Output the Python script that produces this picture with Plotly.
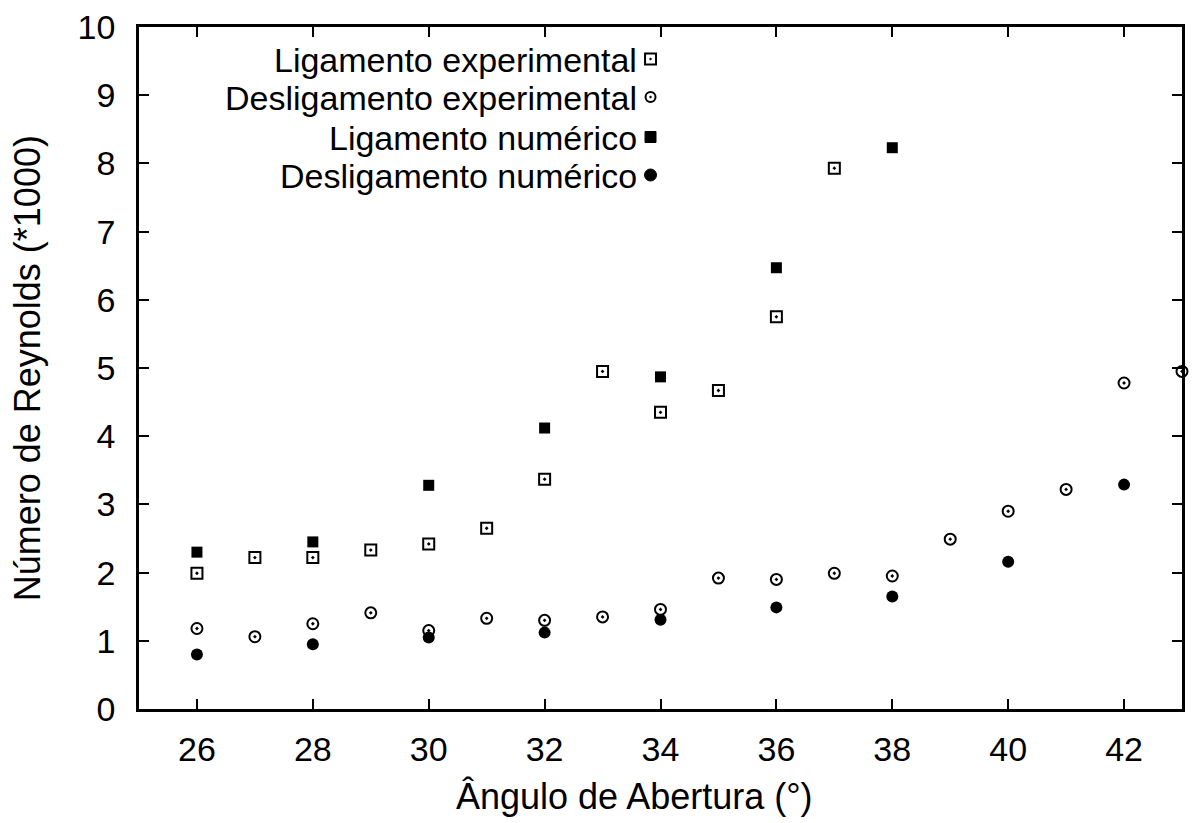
import plotly.graph_objects as go

# Data
lig_exp_x = [26, 27, 28, 29, 30, 31, 32, 33, 34, 35, 36, 37]
lig_exp_y = [1.99, 2.22, 2.22, 2.33, 2.42, 2.65, 3.37, 4.95, 4.35, 4.67, 5.75, 7.93]

lig_num_x = [26, 28, 30, 32, 34, 36, 38]
lig_num_y = [2.30, 2.45, 3.28, 4.12, 4.87, 6.47, 8.23]

des_exp_x = [26, 27, 28, 29, 30, 31, 32, 33, 34, 35, 36, 37, 38, 39, 40, 41, 42, 43]
des_exp_y = [1.18, 1.06, 1.25, 1.41, 1.15, 1.33, 1.30, 1.35, 1.46, 1.92, 1.90, 1.99, 1.95, 2.49, 2.90, 3.22, 4.78, 4.95]

des_num_x = [26, 28, 30, 32, 34, 36, 38, 40, 42]
des_num_y = [0.80, 0.95, 1.05, 1.12, 1.31, 1.49, 1.65, 2.16, 3.29]

legend_labels = ["Ligamento experimental", "Desligamento experimental",
                 "Ligamento numérico", "Desligamento numérico"]

x_title = "Ângulo de Abertura (°)"
y_title = "Número de Reynolds (*1000)"

x_ticks = [26, 28, 30, 32, 34, 36, 38, 40, 42]
y_ticks = [0, 1, 2, 3, 4, 5, 6, 7, 8, 9, 10]

FONT = "Liberation Sans, Arial, sans-serif"

fig = go.Figure()
fig.add_trace(go.Scatter(x=lig_exp_x, y=lig_exp_y, mode="markers", name=legend_labels[0],
                         marker=dict(symbol="square-open-dot", size=11, color="black", line=dict(width=2))))
fig.add_trace(go.Scatter(x=des_exp_x, y=des_exp_y, mode="markers", name=legend_labels[1],
                         marker=dict(symbol="circle-open-dot", size=11, color="black", line=dict(width=2))))
fig.add_trace(go.Scatter(x=lig_num_x, y=lig_num_y, mode="markers", name=legend_labels[2],
                         marker=dict(symbol="square", size=11, color="black")))
fig.add_trace(go.Scatter(x=des_num_x, y=des_num_y, mode="markers", name=legend_labels[3],
                         marker=dict(symbol="circle", size=12, color="black")))
for tr in fig.data:
    tr.cliponaxis = False

# Plot-area pixel geometry
L, R, T, B = 139, 1185, 27, 709
W, H = R - L, B - T
def px(xp): return (xp - L) / W
def py(yp): return (B - yp) / H

# Custom legend: text right-aligned, symbol to the right
leg_y = [59, 97, 137, 175]
sym_x = 652
for i, (lab, yy) in enumerate(zip(legend_labels, leg_y)):
    fig.add_annotation(x=px(640), y=py(yy + 1), xref="paper", yref="paper",
                       text=lab, showarrow=False, xanchor="right", yanchor="middle",
                       font=dict(family=FONT, size=34, color="black"))
    s = 5.5
    if i == 0:
        fig.add_shape(type="rect", xref="paper", yref="paper", x0=px(sym_x - s), x1=px(sym_x + s),
                      y0=py(yy + s), y1=py(yy - s), line=dict(color="black", width=2))
    elif i == 1:
        fig.add_shape(type="circle", xref="paper", yref="paper", x0=px(sym_x - 5), x1=px(sym_x + 5),
                      y0=py(yy + 5), y1=py(yy - 5), line=dict(color="black", width=2))
    elif i == 2:
        fig.add_shape(type="rect", xref="paper", yref="paper", x0=px(sym_x - s), x1=px(sym_x + s),
                      y0=py(yy + s), y1=py(yy - s), line=dict(color="black", width=1), fillcolor="black")
    else:
        fig.add_shape(type="circle", xref="paper", yref="paper", x0=px(sym_x - 6), x1=px(sym_x + 6),
                      y0=py(yy + 6), y1=py(yy - 6), line=dict(color="black", width=1), fillcolor="black")
    if i < 2:
        fig.add_shape(type="circle", xref="paper", yref="paper", x0=px(sym_x - 1), x1=px(sym_x + 1),
                      y0=py(yy + 1), y1=py(yy - 1), line=dict(color="black", width=0.5), fillcolor="black")

# Axis titles
fig.add_annotation(x=px(636), y=py(797), xref="paper", yref="paper", text=x_title,
                   showarrow=False, xanchor="center", yanchor="middle",
                   font=dict(family=FONT, size=36, color="black"))
fig.add_annotation(x=px(27), y=py(368), xref="paper", yref="paper", text=y_title,
                   showarrow=False, xanchor="center", yanchor="middle", textangle=-90,
                   font=dict(family=FONT, size=36, color="black"))

axis_common = dict(showline=True, linecolor="black", linewidth=2.5, mirror="allticks",
                   ticks="inside", ticklen=10, tickwidth=2, tickcolor="black",
                   showgrid=False, zeroline=False,
                   tickfont=dict(family=FONT, size=34, color="black"))

fig.update_xaxes(range=[25, 43], tickvals=x_ticks, ticklabelstandoff=8, **axis_common)
fig.update_yaxes(range=[0, 10], tickvals=y_ticks, ticklabelstandoff=14, **axis_common)

fig.update_layout(width=1192, height=823, showlegend=False,
                  margin=dict(l=L, r=1192 - R, t=T, b=823 - B),
                  plot_bgcolor="white", paper_bgcolor="white",
                  font=dict(family=FONT, color="black"))

fig.write_html("out.html")
